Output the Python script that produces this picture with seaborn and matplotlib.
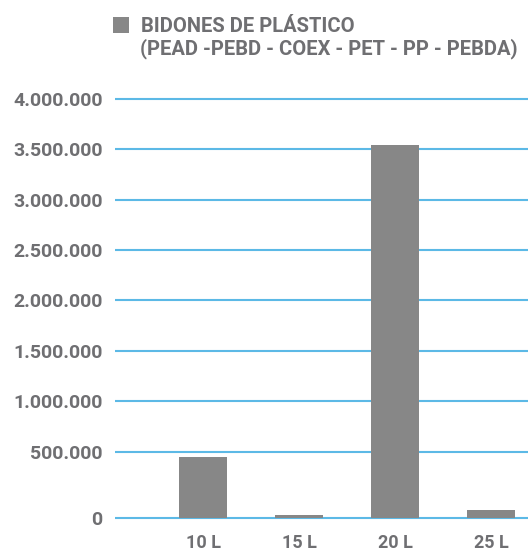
"""
Bidones de plástico - barras por capacidad
"""
import matplotlib
matplotlib.use("Agg")
import matplotlib.pyplot as plt
import numpy as np
import pandas as pd
import seaborn as sns

# datos
capacidades = ["10 L", "15 L", "20 L", "25 L"]
unidades = [462000, 20000, 3545000, 60000]
ticks_y = [0, 500000, 1000000, 1500000, 2000000, 2500000, 3000000, 3500000, 4000000]
serie = "BIDONES DE PLÁSTICO"
subtitulo = "(PEAD -PEBD - COEX - PET - PP - PEBDA)"

gris_txt = "#6f6f72"
gris_barra = "#878787"
azul = "#5cb9e6"

sns.set_style("white")
plt.rcParams['font.family'] = ['Roboto', 'DejaVu Sans']

df = pd.DataFrame({"capacidad": capacidades, "unidades": unidades})

fig = plt.figure(figsize=(5.28, 5.51), dpi=100)
ax = fig.add_axes([115/528, 31/551, 1 - 115/528, (520 - 95)/551])

sns.barplot(data=df, x="capacidad", y="unidades", color=gris_barra,
            width=0.5, saturation=1, linewidth=0, ax=ax, label=serie, zorder=3)


# el tramo 0-500.000 está más estirado en el original
def fwd(v):
    v = np.asarray(v, dtype=float)
    return np.where(v <= 500000, v * 1.32, v + 160000)


def inv(v):
    v = np.asarray(v, dtype=float)
    return np.where(v <= 660000, v / 1.32, v - 160000)


ax.set_yscale("function", functions=(fwd, inv))
ax.set_ylim(-15000, 4040000)
ax.set_xlim(-0.917, 3.385)

ax.set_yticks(ticks_y)
ax.set_yticklabels([f"{t:,}".replace(",", ".") for t in ticks_y])
ax.yaxis.grid(True, color=azul, linewidth=1.5, zorder=1)
ax.xaxis.grid(False)
for s in ax.spines.values():
    s.set_visible(False)

ax.tick_params(axis="y", length=0, pad=9, labelsize=14, labelcolor=gris_txt)
ax.tick_params(axis="x", length=0, pad=10, labelsize=13, labelcolor=gris_txt)
for lab in ax.get_yticklabels() + ax.get_xticklabels():
    lab.set_fontweight("bold")
ax.set_xlabel("")
ax.set_ylabel("")

leg = ax.legend(loc="upper left", bbox_to_anchor=(95/528, 1 + 1/551),
                bbox_transform=fig.transFigure, frameon=False,
                handlelength=0.8, handleheight=0.8, handletextpad=0.6,
                prop={"size": 14.5, "weight": "bold"})
for t in leg.get_texts():
    t.set_color(gris_txt)
fig.text(140/528, 1 - 49/551, subtitulo, fontsize=14.5, fontweight="bold",
         color=gris_txt, va="center", ha="left")

plt.savefig("out.png", dpi=100)
